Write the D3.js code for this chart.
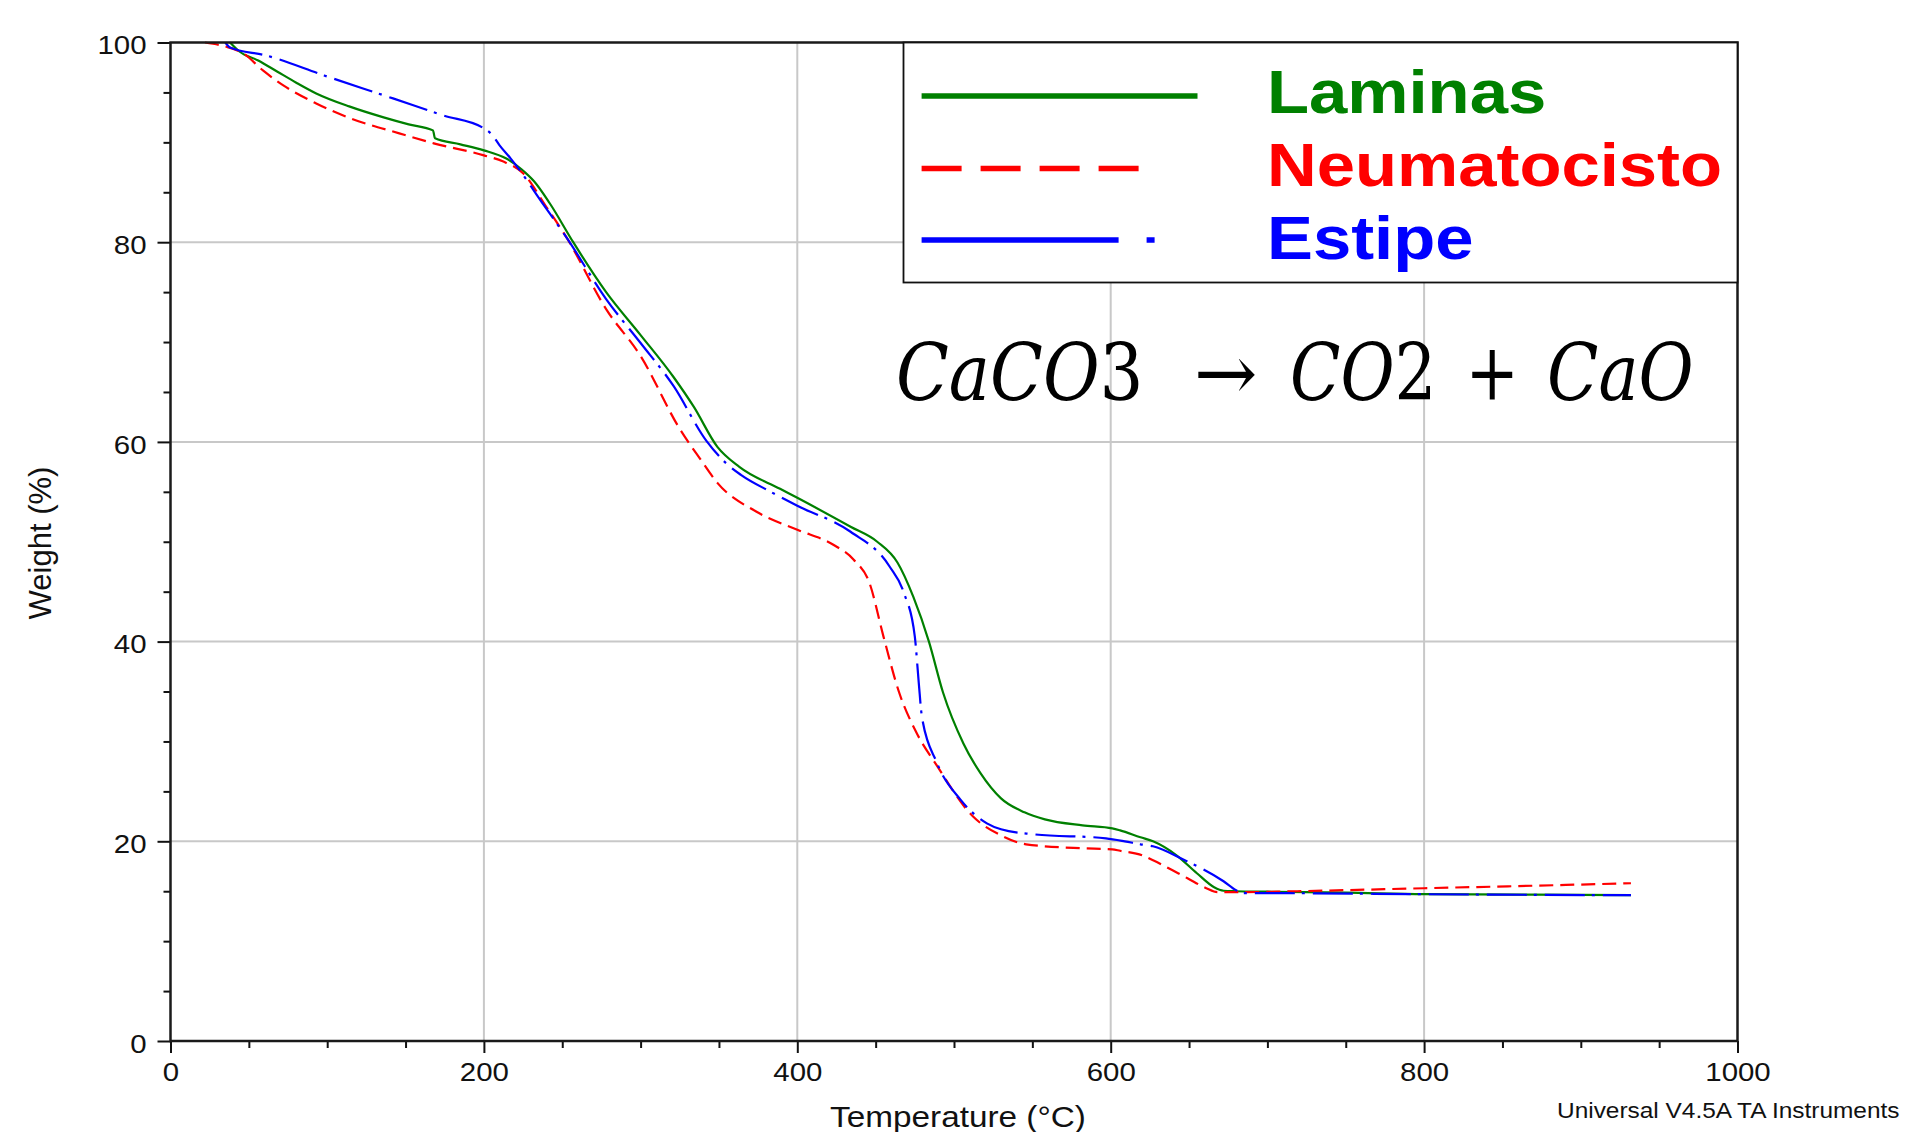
<!DOCTYPE html>
<html>
<head>
<meta charset="utf-8">
<script src="https://cdn.jsdelivr.net/npm/d3@7"></script>
<style>
  body { margin: 0; background: #fff; overflow: hidden; }
  text { font-family: "Liberation Sans", Arial, sans-serif; }
</style>
</head>
<body>
<svg id="tga"></svg>
<script>
// TGA curves: [temperature (°C), weight (%)]
var laminas = [
  [38, 100], [44, 99.1], [56, 98.2], [68, 97.1], [80, 96.0], [93, 94.9],
  [114, 93.6], [136, 92.5], [152, 91.8], [167.5, 91.2], [168.8, 90.4],
  [185, 89.8], [200, 89.2], [214, 88.4], [224, 87.3], [232, 86.1],
  [242, 83.9], [257, 80.0], [278, 75.0], [300, 70.7], [321, 66.5],
  [334, 63.5], [349, 59.5], [363, 57.5], [389, 55.3], [400, 54.4],
  [434, 51.5], [451, 50.0], [464, 47.9], [474, 44.5], [484, 40.0],
  [493, 34.9], [506, 29.8], [517, 26.8], [530, 24.3], [545, 22.9],
  [558, 22.2], [582, 21.6], [601, 21.3], [606, 21.1], [619, 20.4],
  [627, 20.0], [642, 18.6], [655, 16.8], [666, 15.4], [672, 15.05],
  [680, 15.0], [700, 14.95], [750, 14.85], [800, 14.7], [870, 14.65],
  [932, 14.6]
];
var neumatocisto = [
  [22, 100], [35, 99.6], [46.5, 98.9], [59, 97.2], [72, 95.7], [93, 93.9],
  [115, 92.4], [146, 90.9], [168, 89.9], [200, 88.7], [212, 88.1],
  [225, 86.9], [240, 83.5], [253, 80.4], [278, 73.3], [300, 68.6],
  [325, 61.3], [338, 58.3], [349, 55.9], [374, 53.0], [400, 51.2],
  [423, 49.7], [436, 48.2], [446, 45.9], [455, 40.5], [465, 34.9],
  [476, 30.9], [489, 27.6], [512, 22.5], [530, 20.6], [546, 19.7],
  [582, 19.3], [601, 19.2], [606, 19.05], [620, 18.6], [627, 18.1],
  [643, 16.8], [649, 16.3], [661, 15.3], [668, 14.9], [680, 14.9],
  [719, 15.0], [800, 15.3], [870, 15.55], [932, 15.8]
];
var estipe = [
  [35, 100], [38, 99.5], [61, 98.7], [98, 96.7], [142, 94.4], [174, 92.7],
  [200, 91.4], [205, 90.8], [210, 89.7], [217, 88.4], [221, 87.6],
  [237, 84.0], [253, 80.4], [278, 74.3], [300, 69.9], [321, 65.6],
  [342, 60.1], [355, 57.8], [364, 56.7], [383, 55.0], [400, 53.6],
  [434, 51.0], [459, 47.5], [468, 44.9], [475, 40.5], [477.5, 35.9],
  [479.5, 32.5], [489, 27.9], [504, 24.2], [521, 21.8], [530, 21.2],
  [551, 20.7], [597, 20.3], [609, 20.0], [619, 19.7], [627, 19.5],
  [646, 18.2], [672, 16.0], [680, 15.1], [685, 14.8], [714, 14.8],
  [800, 14.7], [932, 14.6]
];

var seriesNames = ["Laminas", "Neumatocisto", "Estipe"];
var xMajor = [0, 200, 400, 600, 800, 1000];
var yMajor = [0, 20, 40, 60, 80, 100];

var screen = { width: 1908, height: 1132 };
var plot = { left: 170.5, right: 1737.5, top: 42.5, bottom: 1041 };
var stretch = 1.11; // the source image is a little wider than tall

var svg = d3.select("#tga").attr("width", screen.width).attr("height", screen.height);

var xScale = d3.scaleLinear().domain([0, 1000]).range([plot.left, plot.right]);
var yScale = d3.scaleLinear().domain([0, 100]).range([plot.bottom, plot.top]);

var widen = function (sel, k) {
  sel.each(function () {
    var w = this.getComputedTextLength();
    d3.select(this).attr("textLength", w * k).attr("lengthAdjust", "spacingAndGlyphs");
  });
};

//grid
var grid = svg.append("g").attr("stroke", "#c8c8c8").attr("stroke-width", 2);
grid.selectAll("line.gx")
  .data(xMajor.slice(1, -1))
  .enter().append("line")
  .attr("x1", function (d) { return xScale(d); })
  .attr("x2", function (d) { return xScale(d); })
  .attr("y1", plot.top).attr("y2", plot.bottom);
grid.selectAll("line.gy")
  .data(yMajor.slice(1, -1))
  .enter().append("line")
  .attr("y1", function (d) { return yScale(d); })
  .attr("y2", function (d) { return yScale(d); })
  .attr("x1", plot.left).attr("x2", plot.right);

//axes
var minorX = d3.range(0, 1001, 50).filter(function (d) { return d % 200 != 0; });
var minorY = d3.range(0, 101, 5).filter(function (d) { return d % 20 != 0; });

svg.append("g")
  .attr("transform", "translate(0," + plot.bottom + ")")
  .call(d3.axisBottom(xScale).tickValues(xMajor).tickFormat(d3.format("d"))
    .tickSize(12).tickPadding(9).tickSizeOuter(0));
svg.append("g")
  .attr("transform", "translate(0," + plot.bottom + ")")
  .call(d3.axisBottom(xScale).tickValues(minorX).tickSize(7).tickFormat("").tickSizeOuter(0));
var yAxis = svg.append("g")
  .attr("transform", "translate(" + plot.left + ",0)")
  .call(d3.axisLeft(yScale).tickValues(yMajor).tickFormat(d3.format("d"))
    .tickSize(13).tickPadding(11).tickSizeOuter(0));
svg.append("g")
  .attr("transform", "translate(" + plot.left + ",0)")
  .call(d3.axisLeft(yScale).tickValues(minorY).tickSize(7).tickFormat("").tickSizeOuter(0));

svg.selectAll(".domain").remove();
svg.selectAll(".tick line").attr("stroke", "#111").attr("stroke-width", 2);
svg.selectAll(".tick text")
  .attr("fill", "#111")
  .style("font-family", "'Liberation Sans', Arial, sans-serif")
  .style("font-size", "26.5px");
yAxis.selectAll(".tick text").attr("dy", "0.42em");

//curves
var line = d3.line()
  .x(function (d) { return xScale(d[0]); })
  .y(function (d) { return yScale(d[1]); })
  .curve(d3.curveMonotoneX);

var curves = svg.append("g").attr("fill", "none").attr("stroke-width", 2.2);
curves.append("path").datum(laminas).attr("d", line).attr("stroke", "#008000");
curves.append("path").datum(neumatocisto).attr("d", line).attr("stroke", "#ff0000")
  .attr("stroke-dasharray", "14,7");
curves.append("path").datum(estipe).attr("d", line).attr("stroke", "#0000ff")
  .attr("stroke-dasharray", "40,7,3,8");

//frame
svg.append("rect")
  .attr("x", plot.left).attr("y", plot.top)
  .attr("width", plot.right - plot.left).attr("height", plot.bottom - plot.top)
  .attr("fill", "none").attr("stroke", "#1a1a1a").attr("stroke-width", 2.5);

//legend
var legend = svg.append("g");
legend.append("rect")
  .attr("x", 903.5).attr("y", plot.top)
  .attr("width", plot.right - 903.5).attr("height", 282.5 - plot.top)
  .attr("fill", "#fff").attr("stroke", "#111").attr("stroke-width", 1.8);

var legendColors = ["#008000", "#ff0000", "#0000ff"];
var legendDash = ["none", "40,19", "197,28,8,400"];
var legendEnds = [1197.5, 1139, 1155];
var legendRows = [96, 168.5, 240];
var legendBase = [113, 186, 259];

legend.selectAll("line.key")
  .data(seriesNames)
  .enter().append("line")
  .attr("x1", 921.6)
  .attr("x2", function (d, i) { return legendEnds[i]; })
  .attr("y1", function (d, i) { return legendRows[i]; })
  .attr("y2", function (d, i) { return legendRows[i]; })
  .attr("stroke", function (d, i) { return legendColors[i]; })
  .attr("stroke-width", 5.5)
  .attr("stroke-dasharray", function (d, i) { return legendDash[i]; });

var legendText = legend.selectAll("text.name")
  .data(seriesNames)
  .enter().append("text")
  .text(function (d) { return d; })
  .attr("x", 1267)
  .attr("y", function (d, i) { return legendBase[i]; })
  .attr("fill", function (d, i) { return legendColors[i]; })
  .style("font-weight", "bold")
  .style("font-size", "62px");

//reaction: letters italic, digits and operators upright
var reaction = [
  { parts: [["CaCO", true], ["3", false]], x0: 896, x1: 1143.5 },
  { parts: [["\u2192", false]], x0: 1194, x1: 1257.5 },
  { parts: [["CO", true], ["2", false]], x0: 1290, x1: 1436.5 },
  { parts: [["+", false]], x0: 1465.5, x1: 1519 },
  { parts: [["CaO", true]], x0: 1547, x1: 1693.5 }
];
var terms = svg.append("g").selectAll("text")
  .data(reaction)
  .enter().append("text")
  .attr("x", function (d) { return d.x0; })
  .attr("y", 400)
  .attr("textLength", function (d) { return d.x1 - d.x0; })
  .attr("lengthAdjust", "spacingAndGlyphs")
  .style("font-family", "'DejaVu Serif', serif")
  .style("font-size", "78px")
  .attr("fill", "#000");
terms.selectAll("tspan")
  .data(function (d) { return d.parts; })
  .enter().append("tspan")
  .text(function (p) { return p[0]; })
  .style("font-style", function (p) { return p[1] ? "italic" : "normal"; });

//labels
var xLabel = svg.append("text")
  .text("Temperature (\u00b0C)")
  .attr("text-anchor", "middle")
  .attr("x", 958).attr("y", 1127)
  .style("font-size", "30px").attr("fill", "#111");

svg.append("g")
  .attr("transform", "translate(51,543)")
  .append("text")
  .text("Weight (%)")
  .attr("text-anchor", "middle")
  .attr("transform", "rotate(-90)")
  .style("font-size", "31px").attr("fill", "#111");

var credit = svg.append("text")
  .text("Universal V4.5A TA Instruments")
  .attr("x", 1557).attr("y", 1118)
  .style("font-size", "22px").attr("fill", "#111");

widen(svg.selectAll(".tick text"), stretch);
widen(legendText, stretch);
widen(xLabel, stretch);
widen(credit, stretch);
</script>
</body>
</html>
